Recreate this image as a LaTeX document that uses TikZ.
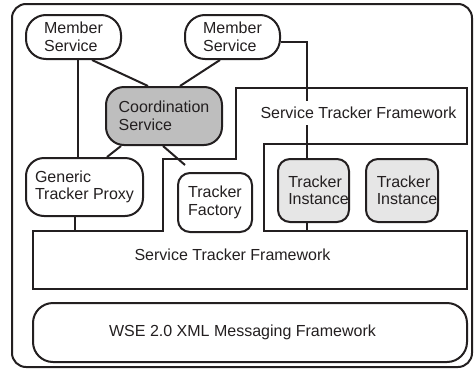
\documentclass[tikz,border=0pt]{standalone}
\usepackage{fontspec}
\setmainfont{Liberation Sans}
\usetikzlibrary{backgrounds}
\definecolor{coordgray}{HTML}{BEBEBE}
\definecolor{instgray}{HTML}{E6E6E6}
\definecolor{ink}{HTML}{231F20}
\begin{document}
\begin{tikzpicture}[x=1pt,y=-1pt,
  every node/.style={font=\fontsize{16}{17.5}\selectfont, align=left, inner sep=0pt, text=ink},
  box/.style={draw=ink, line width=2pt, fill=white, rounded corners=#1},
  box/.default=18pt,
  conn/.style={draw=ink, line width=2pt}]
\useasboundingbox (0,0) rectangle (474,370);
% outer frame
\draw[ink, line width=2pt, rounded corners=14pt] (12,4) rectangle (472,367);
% nodes
\node[box=20pt, minimum width=95pt, minimum height=44pt] (ms1) at (73.5,37) {Member\\Service};
\node[box=20pt, minimum width=95pt, minimum height=44pt] (ms2) at (232.5,37) {Member\\Service};
\node[box=18pt, fill=coordgray, minimum width=116pt, minimum height=58pt] (coord) at (164,116) {Coordination\\Service};
\node[box=18pt, minimum width=117pt, minimum height=58pt] (gtp) at (84.5,187) {Generic\\Tracker Proxy};
\node[box=12pt, minimum width=74pt, minimum height=59pt] (tf) at (215,202.5) {Tracker\\Factory};
\node[box=12pt, fill=instgray, minimum width=71pt, minimum height=63pt] (ti1) at (313.5,190.5) {\hspace*{10pt}Tracker\\\hspace*{10pt}Instance};
\node[box=12pt, fill=instgray, minimum width=72pt, minimum height=63pt] (ti2) at (402,190.5) {\hspace*{10pt}Tracker\\\hspace*{10pt}Instance};
\node[box=20pt, minimum width=434pt, minimum height=59pt] (wse) at (250,332.5) {\hspace*{-15pt}WSE 2.0 XML Messaging Framework};
% service tracker framework shape
\draw[ink, line width=2pt] (33,231) -- (163,231) -- (163,159) -- (236,159) -- (236,88) -- (467,88)
  -- (467,144) -- (264,144) -- (264,231) -- (467,231) -- (467,289) -- (33,289) -- cycle;
\node[fill=white, inner xsep=2pt, inner ysep=6.5pt] (stf1) at (358.5,113) {Service Tracker Framework};
\node (stf2) at (232.5,255) {Service Tracker Framework};
\coordinate (p1) at (75,231);
\coordinate (p2) at (307,231);
\coordinate (tfend) at (185,165);
% connectors
\begin{scope}[on background layer]
\draw[conn] ([xshift=4.5pt]ms1.south) -- ([xshift=-6.5pt]gtp.north);
\draw[conn] ([xshift=18.5pt]ms1.south) -- ([xshift=-16pt]coord.north);
\draw[conn] ([xshift=-12.5pt]ms2.south) -- ([xshift=16pt]coord.north);
\draw[conn] ([xshift=-43pt]coord.south) -- ([xshift=22.5pt]gtp.north);
\draw[conn] ([xshift=-1pt]coord.south) -- (tfend);
\draw[conn] ([yshift=-5pt]ms2.east) -| ([xshift=-6.5pt]ti1.north);
\draw[conn] ([xshift=-6.5pt]ti1.south) -- (p2);
\draw[conn] ([xshift=-9.5pt]gtp.south) -- (p1);
\end{scope}
\end{tikzpicture}
\end{document}
